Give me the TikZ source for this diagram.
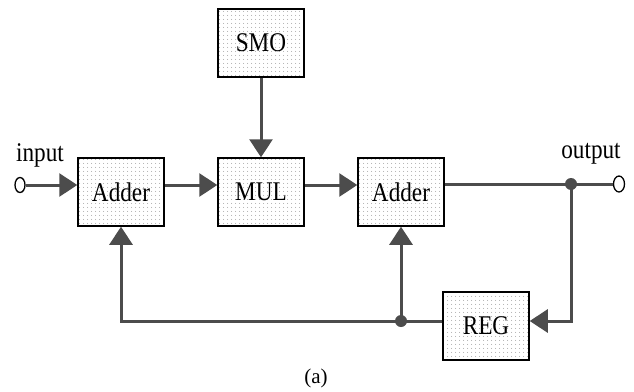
\documentclass[tikz,border=0pt]{standalone}
\usepackage{fontspec}
\setmainfont{Liberation Serif}
\usetikzlibrary{arrows.meta,patterns.meta,shapes.geometric}
\definecolor{ln}{HTML}{4C4C4C}
\newcommand{\sqz}[1]{\scalebox{0.86}[1]{#1}}
\begin{document}
\begin{tikzpicture}[x=1pt,y=-1pt,
  blk/.style={draw=black, line width=1.5pt, minimum width=86pt, minimum height=68pt,
    pattern={Dots[distance=4pt,radius=0.5pt]}, pattern color=gray, inner sep=0pt,
    font=\fontsize{27}{27}\selectfont, text depth=0pt},
  wire/.style={draw=ln, line width=3pt},
  arr/.style={wire, -{Triangle[length=18pt,width=23pt]}},
  port/.style={draw=black, ellipse, line width=1.3pt, minimum width=10pt, minimum height=15pt, inner sep=0pt, fill=white},
  jdot/.style={circle, fill=ln, minimum size=12pt, inner sep=0pt},
  lbl/.style={font=\fontsize{27}{27}\selectfont, inner sep=0pt},
]
\useasboundingbox (0,0) rectangle (634,391);
\node[blk] (add1) at (121,192) {\sqz{Adder}};
\node[blk] (mul) at (261,192) {\sqz{MUL}};
\node[blk] (smo) at (261,43) {\sqz{SMO}};
\node[blk] (add2) at (401,192) {\sqz{Adder}};
\node[blk] (reg) at (486,326) {\sqz{REG}};

\coordinate (j1) at (571,184);
\coordinate (j2) at (401,321);

\node[port] (in) at (20,185) {};
\node[port, minimum width=11pt, minimum height=16pt] (out) at (619,184) {};

% wires
\draw[arr] (smo) -- (mul);
\draw[arr] (in) -- ([yshift=7pt]add1.west);
\draw[arr] ([yshift=7pt]add1.east) -- ([yshift=7pt]mul.west);
\draw[arr] ([yshift=7pt]mul.east) -- ([yshift=7pt]add2.west);
\draw[wire] ([yshift=8pt]add2.east) -- (out);
\draw[arr] (j1) |- ([yshift=5pt]reg.east);
\draw[arr] ([yshift=5pt]reg.west) -| (add1.south);
\draw[arr] (j2) -- (add2.south);

\node[jdot] (d1) at (j1) {};
\node[jdot] (d2) at (j2) {};

\node[lbl] (lin) at (40,155) {\sqz{input}};
\node[lbl] (lout) at (591,154) {\sqz{output}};
\node[font=\fontsize{21}{21}\selectfont, inner sep=0pt] (cap) at (316,378) {(a)};
\end{tikzpicture}
\end{document}
